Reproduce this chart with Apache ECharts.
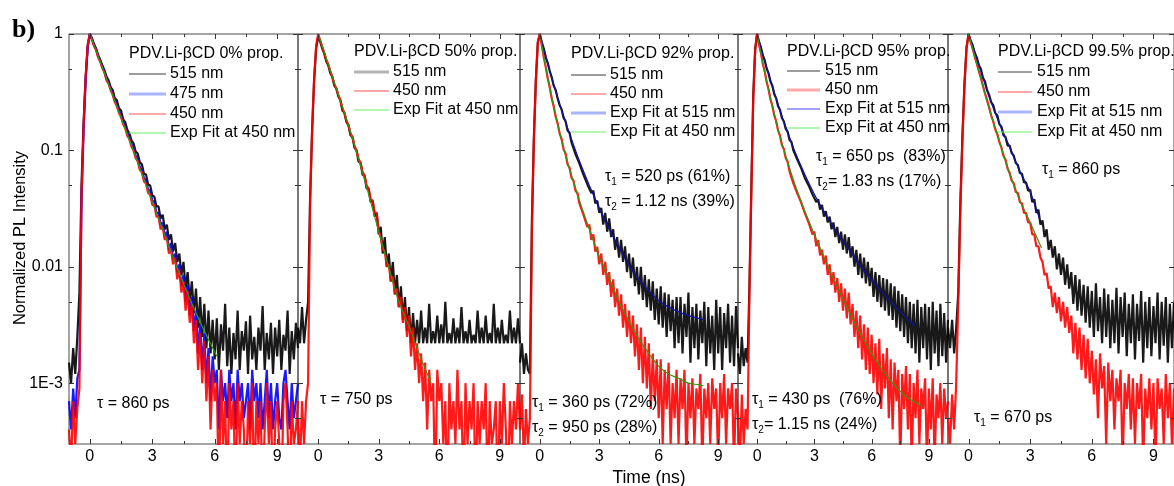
<!DOCTYPE html>
<html><head><meta charset="utf-8">
<script src="https://cdn.jsdelivr.net/npm/echarts@6/dist/echarts.min.js"></script>
<style>html,body{margin:0;padding:0;background:#fff}#c{width:1174px;height:486px}</style>
</head><body><div id="c"></div><script>
// ---------- data ----------
const time = [
-1,-0.9,-0.8,-0.7,-0.6,-0.5,-0.4,-0.3,-0.2,-0.1,
0,0.1,0.2,0.3,0.4,0.5,0.6,0.7,0.8,0.9,
1,1.1,1.2,1.3,1.4,1.5,1.6,1.7,1.8,1.9,
2,2.1,2.2,2.3,2.4,2.5,2.6,2.7,2.8,2.9,
3,3.1,3.2,3.3,3.4,3.5,3.6,3.7,3.8,3.9,
4,4.1,4.2,4.3,4.4,4.5,4.6,4.7,4.8,4.9,
5,5.1,5.2,5.3,5.4,5.5,5.6,5.7,5.8,5.9,
6,6.1,6.2,6.3,6.4,6.5,6.6,6.7,6.8,6.9,
7,7.1,7.2,7.3,7.4,7.5,7.6,7.7,7.8,7.9,
8,8.1,8.2,8.3,8.4,8.5,8.6,8.7,8.8,8.9,
9,9.1,9.2,9.3,9.4,9.5,9.6,9.7,9.8,9.9,
10];
const xTickLabels = [0, 3, 6, 9];
const xMinorTicks = [1.5, 4.5, 7.5];
const yTickLabels = [1, 0.1, 0.01, 0.001];
const yMinorTicks = [0.5, 0.05, 0.005, 0.0005];

// Panel 1 (0% prop.)
const p1_515 = [
0.0015,0.001,0.002,0.0012,0.0025,0.006,0.05,0.17,0.43,0.8,
1.0,0.92,0.82,0.75,0.66,0.6,0.54,0.49,0.43,0.4,
0.35,0.33,0.28,0.27,0.23,0.22,0.185,0.175,0.15,0.14,
0.122,0.115,0.098,0.094,0.079,0.076,0.063,0.062,0.051,0.05,
0.041,0.04,0.033,0.033,0.026,0.028,0.021,0.023,0.017,0.019,
0.0135,0.016,0.011,0.013,0.0085,0.011,0.0065,0.009,0.005,0.0075,
0.004,0.0065,0.003,0.0055,0.0025,0.0048,0.002,0.0042,0.0018,0.0035,
0.0016,0.0036,0.0013,0.0032,0.0019,0.0048,0.0014,0.003,0.0012,0.0027,
0.0016,0.0042,0.0013,0.0028,0.0019,0.0034,0.0012,0.0038,0.0016,0.0025,
0.0013,0.003,0.0019,0.0046,0.0013,0.0027,0.0016,0.0033,0.0012,0.003,
0.0017,0.0035,0.0013,0.0026,0.0019,0.0042,0.0012,0.0028,0.0016,0.0033,
0.002];
const p1_475 = [
0.0007,0.0004,0.0009,0.0005,0.0011,0.0013,0.035,0.15,0.4,0.78,
1.0,0.91,0.8,0.74,0.64,0.59,0.52,0.48,0.41,0.385,
0.34,0.31,0.27,0.25,0.22,0.2,0.175,0.163,0.14,0.13,
0.113,0.104,0.09,0.085,0.072,0.068,0.058,0.055,0.046,0.045,
0.037,0.036,0.029,0.029,0.023,0.024,0.018,0.02,0.014,0.016,
0.0115,0.013,0.009,0.0105,0.0068,0.0085,0.005,0.007,0.0038,0.0055,
0.0028,0.0042,0.0018,0.0033,0.0013,0.0027,0.001,0.002,0.0007,0.0017,
0.001,0.0013,0.0004,0.0013,0.0007,0.001,0.0005,0.0013,0.0007,0.001,
0.0004,0.0013,0.0007,0.001,0.0005,0.0007,0.001,0.0004,0.0013,0.0007,
0.001,0.0005,0.001,0.0004,0.0007,0.0013,0.0005,0.001,0.0004,0.0007,
0.001,0.0005,0.0004,0.001,0.0013,0.0007,0.0004,0.001,0.0005,0.0007,
0.001];
const p1_450 = [
0.0004,0.0002,0.0007,0.0003,0.0006,0.0009,0.04,0.16,0.42,0.8,
1.0,0.9,0.79,0.73,0.63,0.58,0.51,0.47,0.4,0.375,
0.33,0.3,0.26,0.24,0.21,0.195,0.168,0.156,0.134,0.125,
0.108,0.1,0.086,0.081,0.068,0.065,0.054,0.052,0.043,0.042,
0.034,0.034,0.027,0.027,0.021,0.022,0.017,0.018,0.013,0.014,
0.0105,0.012,0.0078,0.0095,0.006,0.0075,0.0042,0.0062,0.0033,0.0048,
0.0022,0.0035,0.0013,0.0027,0.001,0.0023,0.0007,0.0017,0.0004,0.0013,
0.0007,0.001,0.0001,0.0013,0.0003,0.0007,0.0001,0.001,0.0004,0.0007,
0.0001,0.001,0.0003,0.0007,0.0004,0.0001,0.0007,0.0003,0.001,0.0001,
0.0007,0.0003,0.0007,0.0001,0.0004,0.001,0.0003,0.0007,0.0001,0.0004,
0.0007,0.0003,0.0001,0.0007,0.001,0.0004,0.0001,0.0007,0.0003,0.0004,
0.0007];
const fitT1 = [0,0.5,1,1.5,2,2.5,3,3.5,4,4.5,5,5.5,6.1];
const fit1_450 = [1,0.575,0.33,0.19,0.11,0.063,0.036,0.021,0.012,0.0072,0.0044,0.0028,0.0017];

// Panel 2 (50% prop.)
const p2_515 = [
0.003,0.0022,0.0045,0.0022,0.0035,0.005,0.04,0.15,0.4,0.75,
0.95,0.86,0.75,0.68,0.58,0.54,0.46,0.43,0.36,0.34,
0.29,0.27,0.22,0.21,0.175,0.165,0.135,0.13,0.105,0.1,
0.08,0.078,0.062,0.06,0.047,0.047,0.036,0.037,0.027,0.029,
0.019,0.022,0.013,0.018,0.01,0.013,0.0075,0.011,0.0058,0.0085,
0.0045,0.0068,0.0035,0.0055,0.0028,0.0045,0.0022,0.004,0.0022,0.0035,
0.0022,0.0042,0.0022,0.003,0.0022,0.0048,0.0022,0.0028,0.0022,0.0038,
0.0022,0.0032,0.0022,0.005,0.0022,0.0027,0.0022,0.0036,0.0022,0.003,
0.0022,0.0045,0.0022,0.0028,0.0022,0.0035,0.0022,0.0026,0.0022,0.0042,
0.0022,0.003,0.0022,0.0038,0.0022,0.0027,0.0022,0.0048,0.0022,0.003,
0.0022,0.0035,0.0022,0.0026,0.0022,0.0042,0.0022,0.003,0.0022,0.0036,
0.0022];
const p2_450 = [
0.0005,0.0002,0.0007,0.0003,0.0007,0.001,0.035,0.15,0.42,0.8,
1.0,0.88,0.78,0.69,0.6,0.55,0.48,0.43,0.37,0.34,
0.3,0.27,0.23,0.21,0.18,0.165,0.14,0.13,0.11,0.1,
0.085,0.078,0.065,0.061,0.05,0.047,0.038,0.037,0.029,0.029,
0.02,0.018,0.014,0.0135,0.01,0.0105,0.0075,0.0082,0.0058,0.0065,
0.0045,0.0055,0.0033,0.0045,0.0025,0.0038,0.0017,0.003,0.0013,0.0022,
0.001,0.0018,0.0007,0.0015,0.0004,0.0013,0.0007,0.001,0.0001,0.0013,
0.0007,0.001,0.0003,0.0007,0.0001,0.001,0.0004,0.0007,0.0003,0.0013,
0.0004,0.0007,0.0001,0.001,0.0003,0.0007,0.0004,0.001,0.0001,0.0007,
0.0003,0.0007,0.0004,0.001,0.0001,0.0007,0.0003,0.0004,0.0007,0.0001,
0.0007,0.0003,0.001,0.0004,0.0001,0.0007,0.0003,0.0007,0.0004,0.001,
0.0004];
const fitT2 = [0,0.5,1,1.5,2,2.5,3,3.5,4,4.5,5,5.6];
const fit2_450 = [1,0.55,0.3,0.165,0.085,0.042,0.02,0.0098,0.005,0.0031,0.0018,0.001];

// Panel 3 (92% prop.)
const p3_515 = [
0.0015,0.0022,0.0012,0.0018,0.0013,0.0012,0.025,0.13,0.4,0.85,
1.0,0.85,0.75,0.63,0.565,0.48,0.425,0.36,0.33,0.28,
0.245,0.225,0.19,0.178,0.148,0.142,0.117,0.113,0.093,0.091,
0.077,0.076,0.062,0.063,0.051,0.053,0.043,0.045,0.035,0.037,
0.029,0.032,0.023,0.029,0.02,0.026,0.018,0.021,0.014,0.018,
0.012,0.017,0.011,0.015,0.009,0.013,0.008,0.012,0.0068,0.01,
0.0058,0.01,0.0052,0.0085,0.0045,0.0078,0.0042,0.0075,0.0035,0.0065,
0.0032,0.0068,0.003,0.006,0.0025,0.0058,0.0028,0.0052,0.002,0.0055,
0.0022,0.0055,0.0018,0.0048,0.0025,0.006,0.0015,0.0045,0.002,0.0048,
0.0016,0.0042,0.0022,0.005,0.0014,0.0045,0.0018,0.0038,0.0013,0.0052,
0.0018,0.0045,0.0013,0.004,0.002,0.0048,0.0015,0.0038,0.0014,0.0046,
0.002];
const p3_450 = [
0.0004,0.0008,0.0002,0.0006,0.0003,0.0005,0.02,0.12,0.4,0.85,
1.0,0.8,0.63,0.52,0.415,0.35,0.28,0.24,0.195,0.17,
0.14,0.125,0.102,0.094,0.076,0.071,0.058,0.055,0.045,0.043,
0.035,0.035,0.028,0.029,0.022,0.023,0.017,0.019,0.0135,0.0148,
0.0105,0.013,0.0085,0.011,0.007,0.009,0.0055,0.0078,0.0045,0.0065,
0.0038,0.0058,0.003,0.0048,0.0025,0.0042,0.0022,0.0038,0.0017,0.0032,
0.0013,0.003,0.001,0.0025,0.0009,0.0022,0.0006,0.0018,0.0007,0.0016,
0.0005,0.0016,0.0003,0.0013,0.0006,0.0015,0.0003,0.001,0.0005,0.0013,
0.0003,0.0011,0.0006,0.0013,0.0002,0.001,0.0005,0.0011,0.0003,0.0009,
0.0006,0.0012,0.0002,0.0009,0.0005,0.001,0.0003,0.0011,0.0006,0.0009,
0.0002,0.001,0.0005,0.0012,0.0003,0.0009,0.0006,0.001,0.0002,0.0009,
0.0005];
const fitT3_515 = [0,0.25,0.5,0.75,1,1.25,1.5,2,2.5,3,3.5,4,4.5,5,5.5,6,6.5,7,7.5,8,8.3];
const fit3_515 = [1,0.69,0.483,0.344,0.25,0.186,0.139,0.081,0.05,0.032,0.0211,0.0146,0.0103,0.0078,0.0062,0.0051,0.0045,0.0041,0.0038,0.0036,0.0035];
const fitT3_450 = [0,0.25,0.5,0.75,1,1.25,1.5,2,2.5,3,3.5,4,4.5,5,5.5,6,6.5,7,7.5,8,8.26];
const fit3_450 = [1,0.574,0.345,0.217,0.143,0.097,0.069,0.037,0.021,0.0122,0.008,0.005,0.0034,0.0024,0.0018,0.0014,0.0012,0.0011,0.001,0.00097,0.00095];

// Panel 4 (95% prop.)
const p4_515 = [
0.0018,0.0012,0.0025,0.0014,0.002,0.0015,0.007,0.05,0.3,0.75,
1.0,0.86,0.77,0.655,0.595,0.505,0.46,0.39,0.36,0.305,
0.28,0.24,0.223,0.19,0.178,0.153,0.145,0.123,0.118,0.1,
0.098,0.084,0.082,0.071,0.069,0.058,0.058,0.05,0.05,0.042,
0.043,0.036,0.038,0.031,0.034,0.027,0.03,0.024,0.027,0.021,
0.024,0.018,0.022,0.016,0.02,0.014,0.019,0.013,0.018,0.012,
0.015,0.01,0.014,0.0085,0.013,0.008,0.012,0.0072,0.011,0.0068,
0.0098,0.0055,0.009,0.005,0.0085,0.0045,0.008,0.0042,0.0078,0.0038,
0.0072,0.0035,0.0068,0.003,0.0062,0.0028,0.0058,0.0025,0.0055,0.0022,
0.005,0.002,0.0048,0.0018,0.0052,0.0015,0.0045,0.002,0.0048,0.0016,
0.0045,0.0013,0.005,0.0018,0.0042,0.0014,0.0048,0.0017,0.004,0.0015,
0.0035];
const p4_450 = [
0.0005,0.0002,0.0008,0.0003,0.0006,0.0004,0.006,0.045,0.28,0.72,
1.0,0.81,0.69,0.555,0.475,0.388,0.335,0.275,0.242,0.2,
0.178,0.148,0.134,0.111,0.103,0.086,0.08,0.066,0.064,0.052,
0.052,0.043,0.044,0.036,0.035,0.029,0.029,0.024,0.024,0.019,
0.02,0.015,0.017,0.0125,0.014,0.0105,0.0125,0.0085,0.0105,0.007,
0.009,0.006,0.008,0.005,0.0072,0.0042,0.0065,0.0036,0.006,0.0032,
0.0048,0.0025,0.0042,0.002,0.0038,0.0016,0.0032,0.0013,0.003,0.0012,
0.0026,0.001,0.0022,0.0008,0.0024,0.0006,0.0018,0.0009,0.002,0.0005,
0.0016,0.0004,0.0015,0.0007,0.0013,0.0002,0.0012,0.0006,0.0014,0.0004,
0.0012,0.0002,0.001,0.0005,0.0013,0.0003,0.0009,0.0006,0.0011,0.0002,
0.0009,0.0004,0.0011,0.0002,0.0008,0.0005,0.001,0.0003,0.0009,0.0005,
0.0007];
const fitT4_515 = [0,0.25,0.5,0.75,1,1.25,1.5,2,2.5,3,3.5,4,4.5,5,5.5,6,6.5,7,7.5,8,8.3];
const fit4_515 = [1,0.714,0.514,0.376,0.277,0.208,0.158,0.096,0.062,0.042,0.03,0.022,0.0166,0.0128,0.0097,0.0077,0.0062,0.005,0.0041,0.0034,0.0031];
const fitT4_450 = [0,0.25,0.5,0.75,1,1.25,1.5,2,2.5,3,3.5,4,4.5,5,5.5,6,6.5,7,7.5,8,8.57];
const fit4_450 = [1,0.618,0.393,0.258,0.175,0.122,0.089,0.05,0.03,0.019,0.0121,0.0079,0.0053,0.0036,0.0025,0.0018,0.00135,0.00105,0.00085,0.00073,0.00064];

// Panel 5 (99.5% prop.)
const p5_515 = [
0.003,0.002,0.0035,0.0018,0.003,0.006,0.035,0.13,0.37,0.76,
1.0,0.88,0.8,0.69,0.63,0.54,0.5,0.42,0.39,0.33,
0.3,0.26,0.245,0.21,0.2,0.168,0.16,0.135,0.13,0.11,
0.11,0.095,0.09,0.078,0.075,0.064,0.063,0.053,0.053,0.045,
0.046,0.036,0.038,0.029,0.031,0.023,0.025,0.018,0.021,0.014,
0.017,0.012,0.015,0.0095,0.013,0.0085,0.012,0.007,0.0105,0.0065,
0.009,0.0048,0.0085,0.0042,0.0078,0.0038,0.007,0.0033,0.0068,0.003,
0.0062,0.0025,0.0072,0.0028,0.0055,0.0022,0.0065,0.0025,0.0058,0.002,
0.0052,0.0022,0.0066,0.0018,0.0055,0.0025,0.006,0.0017,0.0048,0.0022,
0.0058,0.0016,0.0048,0.0023,0.0062,0.0015,0.005,0.002,0.0055,0.0017,
0.0046,0.0022,0.006,0.0016,0.005,0.0021,0.0055,0.0015,0.0048,0.002,
0.005];
const p5_450 = [
0.0005,0.0003,0.0008,0.0004,0.001,0.005,0.03,0.12,0.35,0.75,
1.0,0.86,0.75,0.64,0.56,0.48,0.42,0.36,0.31,0.27,
0.235,0.2,0.178,0.152,0.138,0.118,0.106,0.09,0.083,0.07,
0.064,0.055,0.052,0.044,0.043,0.036,0.035,0.029,0.029,0.024,
0.024,0.019,0.019,0.015,0.015,0.012,0.011,0.0085,0.0088,0.0065,
0.0068,0.0045,0.006,0.004,0.0055,0.0034,0.005,0.003,0.0045,0.0027,
0.0038,0.0018,0.0033,0.0016,0.003,0.0013,0.0026,0.0011,0.0024,0.001,
0.0019,0.0008,0.0016,0.0005,0.0018,0.0009,0.0014,0.0003,0.0015,0.0007,
0.0013,0.0004,0.0011,0.0007,0.0013,0.0002,0.001,0.0006,0.0012,0.0004,
0.0011,0.0003,0.001,0.0006,0.0012,0.0002,0.0009,0.0005,0.0011,0.0004,
0.001,0.0002,0.0011,0.0006,0.0009,0.0003,0.0012,0.0005,0.001,0.0003,
0.0009];
const fitT5_515 = [0,0.5,1,1.5,2,2.5,3,3.48];
const fit5_515 = [1,0.55,0.29,0.17,0.107,0.066,0.044,0.025];
const fitT5_450 = [0,0.5,1,1.5,2,2.5,3,3.55];
const fit5_450 = [1,0.48,0.23,0.12,0.063,0.037,0.024,0.0145];

// ---------- sanity ----------
[['p1_515',p1_515],['p1_475',p1_475],['p1_450',p1_450],['p2_515',p2_515],['p2_450',p2_450],
 ['p3_515',p3_515],['p3_450',p3_450],['p4_515',p4_515],['p4_450',p4_450],['p5_515',p5_515],['p5_450',p5_450]]
 .forEach(([n,a])=>{ if(a.length!==time.length) throw new Error(n+' length '+a.length); });

// ---------- layout ----------
const FONT = '"Liberation Sans", Arial, sans-serif';
const grids = [[69,229],[298,222],[520,218],[738,210],[948,226]];
const TOP = 34, HEIGHT = 410;
const XMIN = -1, XMAX = 10, YMIN = 3e-4, YMAX = 1;
const BLACK = '#000000', RED = '#ff0000', BLUE = '#0000ff', FITB = '#1010b0', FITG = '#2f9a10';

const panels = [
  {noisy:[[p1_515,BLACK],[p1_475,BLUE],[p1_450,RED]], fits:[[fitT1,fit1_450,FITG]]},
  {noisy:[[p2_515,BLACK],[p2_450,RED]], fits:[[fitT2,fit2_450,FITG]]},
  {noisy:[[p3_515,BLACK],[p3_450,RED]], fits:[[fitT3_515,fit3_515,FITB],[fitT3_450,fit3_450,FITG]]},
  {noisy:[[p4_515,BLACK],[p4_450,RED]], fits:[[fitT4_515,fit4_515,FITB],[fitT4_450,fit4_450,FITG]]},
  {noisy:[[p5_515,BLACK],[p5_450,RED]], fits:[[fitT5_515,fit5_515,FITB],[fitT5_450,fit5_450,FITG]]}
];
const zip = (xs, ys) => xs.map((x,i)=>[x, ys[i]]);

const gridOpt = grids.map(([l,w]) => ({left:l, width:w, top:TOP, height:HEIGHT, show:true, borderColor:'#4a4a4a', borderWidth:1, backgroundColor:'transparent', containLabel:false}));
const xAxes = grids.map((g,i) => ({
  type:'value', gridIndex:i, min:XMIN, max:XMAX,
  axisLine:{show:false}, axisTick:{show:false}, splitLine:{show:false},
  axisLabel:{customValues:xTickLabels, fontSize:16, color:'#000', fontFamily:FONT, margin:5}
}));
const yName = v => { const e = Math.round(Math.log10(v)); return e===0?'1':e===-1?'0.1':e===-2?'0.01':'1E-3'; };
const yAxes = grids.map((g,i) => ({
  type:'log', logBase:10, gridIndex:i, min:YMIN, max:YMAX,
  axisLine:{show:false}, axisTick:{show:false}, splitLine:{show:false}, minorTick:{show:false},
  axisLabel: i===0 ? {customValues:yTickLabels, formatter:yName, fontSize:16, color:'#000', fontFamily:FONT, margin:6} : {show:false}
}));

const series = [];
panels.forEach((p,i) => {
  p.noisy.forEach(([arr,color]) => series.push({
    type:'line', xAxisIndex:i, yAxisIndex:i, data:zip(time,arr), symbol:'none', showSymbol:false,
    lineStyle:{width:2.2, color, opacity:0.9, join:'bevel'}, silent:true, animation:false, clip:true
  }));
  p.fits.forEach(([t,v,color]) => series.push({
    type:'line', xAxisIndex:i, yAxisIndex:i, data:zip(t,v), symbol:'none', showSymbol:false, smooth:0.3,
    lineStyle:{width:1.2, color}, silent:true, animation:false, clip:true
  }));
  series.push({
    type:'custom', xAxisIndex:i, yAxisIndex:i, data:[[0,0.01]], silent:true, animation:false, clip:false, z:10,
    renderItem:(params, api) => {
      const cs = params.coordSys;
      const L = cs.x, R = cs.x + cs.width, T = cs.y, B = cs.y + cs.height;
      const kids = [];
      const seg = (x1,y1,x2,y2) => kids.push({type:'line', shape:{x1,y1,x2,y2}, style:{stroke:'#333', lineWidth:1}});
      xTickLabels.forEach(v => { const x = Math.round(api.coord([v, YMIN])[0]) + 0.5; seg(x,B,x,B-5); seg(x,T,x,T+5); });
      xMinorTicks.forEach(v => { const x = Math.round(api.coord([v, YMIN])[0]) + 0.5; seg(x,B,x,B-3); seg(x,T,x,T+3); });
      yTickLabels.forEach(v => { const y = Math.round(api.coord([XMIN, v])[1]) + 0.5; seg(L,y,L+5,y); seg(R,y,R-5,y); });
      yMinorTicks.forEach(v => { const y = Math.round(api.coord([XMIN, v])[1]) + 0.5; seg(L,y,L+3,y); seg(R,y,R-3,y); });
      return {type:'group', children:kids};
    }
  });
});

// ---------- annotations ----------
const FS = 16;
const txt = (x,y,s,extra) => ({type:'text', x, y, silent:true, z:20,
  style:Object.assign({text:s, font:`${FS}px ${FONT}`, fill:'#000', align:'left', verticalAlign:'middle'}, extra||{})});
const ln = (x1,x2,y,color,w) => ({type:'line', silent:true, z:20, shape:{x1, y1:y, x2, y2:y}, style:{stroke:color, lineWidth:w}});
const tau = (x,y,sub,rest) => ({type:'text', x, y, silent:true, z:20,
  style:{text:`{a|τ}{s|${sub}}{a|${rest}}`, verticalAlign:'middle', align:'left',
    rich:{a:{fontSize:FS, fontFamily:FONT, lineHeight:20, fill:'#000'},
          s:{fontSize:10, fontFamily:FONT, lineHeight:10, verticalAlign:'bottom', fill:'#000'}}}});
const legend = (x1,x2,xt,title,ty,rows) => {
  const out = [txt(x1,ty,title)];
  rows.forEach(([y,label,color,w]) => { out.push(ln(x1,x2,y,color,w)); out.push(txt(xt,y,label)); });
  return out;
};
const L_BLK = '#3a3a3a', L_RED = '#ff5050', L_BLUE_T = '#aab4ff', L_GRN = '#66ee66';
const elements = [].concat(
  [ {type:'text', x:12, y:30, silent:true, style:{text:'b)', font:`bold 26px "Liberation Serif", "Times New Roman", serif`, fill:'#000', verticalAlign:'middle'}},
    {type:'text', x:20, y:238, rotation:Math.PI/2, silent:true, style:{text:'Normalized PL Intensity', font:`16.5px ${FONT}`, fill:'#000', align:'center', verticalAlign:'middle'}},
    {type:'text', x:649, y:478, silent:true, style:{text:'Time (ns)', font:`17.5px ${FONT}`, fill:'#000', align:'center', verticalAlign:'middle'}} ],
  legend(129,166,170,'PDV.Li-βCD 0% prop.',54,[[74,'515 nm',L_BLK,1],[94,'475 nm',L_BLUE_T,3],[114,'450 nm',L_RED,1],[133,'Exp Fit at 450 nm',L_GRN,1]]),
  legend(354,389,393,'PDV.Li-βCD 50% prop.',52,[[72,'515 nm','#b4b4b4',3],[91,'450 nm',L_RED,1],[110,'Exp Fit at 450 nm',L_GRN,1]]),
  legend(571,606,610,'PDV.Li-βCD 92% prop.',54,[[75,'515 nm',L_BLK,1],[94,'450 nm',L_RED,1],[113,'Exp Fit at 515 nm',L_BLUE_T,3],[132,'Exp Fit at 450 nm',L_GRN,1]]),
  legend(787,820,825,'PDV.Li-βCD 95% prop.',52,[[71,'515 nm',L_BLK,1],[90,'450 nm','#ffaaaa',3],[109,'Exp Fit at 515 nm','#4444ff',1],[128,'Exp Fit at 450 nm',L_GRN,1]]),
  legend(998,1032,1037,'PDV.Li-βCD 99.5% prop.',52,[[72,'515 nm',L_BLK,1],[92,'450 nm',L_RED,1],[112,'Exp Fit at 515 nm',L_BLUE_T,3],[132,'Exp Fit at 450 nm',L_GRN,1]]),
  [ txt(97,404,'τ = 860 ps'), txt(320,400,'τ = 750 ps'),
    tau(605,177,'1',' = 520 ps (61%)'), tau(605,202,'2',' = 1.12 ns (39%)'),
    tau(532,403,'1',' = 360 ps (72%)'), tau(532,428,'2',' = 950 ps (28%)'),
    tau(816,157,'1',' = 650 ps  (83%)'), tau(816,182,'2','= 1.83 ns (17%)'),
    tau(752,400,'1',' = 430 ps  (76%)'), tau(752,425,'2','= 1.15 ns (24%)'),
    tau(1042,170,'1',' = 860 ps'), tau(974,418,'1',' = 670 ps') ]
);

const chart = echarts.init(document.getElementById('c'), null, {renderer:'canvas'});
chart.setOption({
  animation:false, backgroundColor:'#fff',
  grid:gridOpt, xAxis:xAxes, yAxis:yAxes, series,
  graphic:{elements}
});
</script></body></html>
